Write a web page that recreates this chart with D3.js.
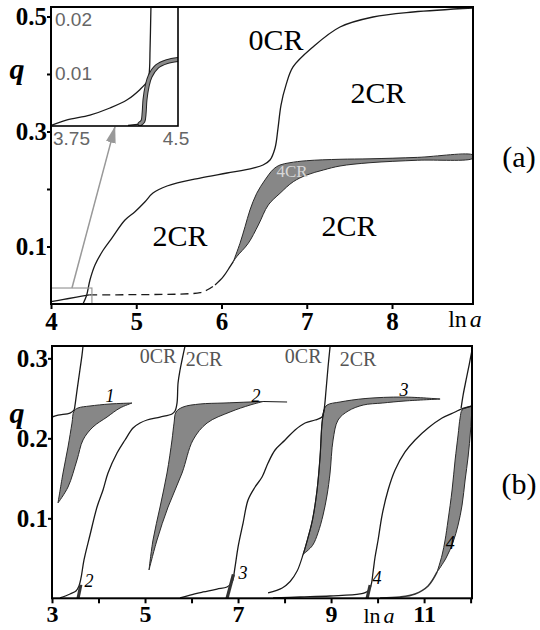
<!DOCTYPE html>
<html><head><meta charset="utf-8">
<script src="https://cdn.jsdelivr.net/npm/d3@7"></script>
<style>body{margin:0;background:#fff}svg{display:block}</style>
</head><body>
<svg id="c" width="540" height="630"></svg>
<script>
// ---------- tick values ----------
const aXTicks=[4,5,6,7,8];
const aYTicks=[0.1,0.2,0.3,0.4,0.5];
const aYLabeled=[0.1,0.3,0.5];
const bXTicks=[3,4,5,6,7,8,9,10,11,12];
const bXLabeled=[3,5,7,9,11];
const bYTicks=[0.1,0.2,0.3];
const insetXTicks=[3.75,4.5];
const insetYTicks=[0.01,0.02];

// ---------- panel (a) data  [ln a, q] ----------
const a0CR=[[4.379,0.0012],[4.419,0.0157],[4.457,0.0417],[4.516,0.0678],[4.613,0.0939],[4.712,0.1143],[4.868,0.1461],[4.985,0.1605],[5.103,0.1779],[5.196,0.193],[5.361,0.2052],[5.748,0.2191],[6.065,0.2278],[6.37,0.2365],[6.487,0.2417],[6.569,0.2504],[6.628,0.2713],[6.663,0.306],[6.698,0.346],[6.757,0.381],[6.839,0.4122],[7.073,0.447],[7.39,0.4817],[7.777,0.4991],[8.246,0.5078],[8.95,0.5148]];
const aLowSolid=[[4.0,0.004],[4.15,0.008],[4.3,0.012],[4.45,0.0157]];
const aDashed=[[4.45,0.0157],[5.0,0.0163],[5.5,0.0172],[5.75,0.0198],[5.83,0.0243],[5.924,0.033]];
const aStem=[[5.924,0.033],[6.021,0.0475],[6.1,0.0649],[6.138,0.0736]];
const aBandLeft=[[6.138,0.0736],[6.217,0.1056],[6.276,0.1344],[6.334,0.1635],[6.413,0.1925],[6.51,0.2157],[6.608,0.2343],[6.686,0.2417],[6.803,0.2457],[6.999,0.2492],[7.39,0.2517],[7.742,0.2525],[8.3,0.255],[8.95,0.259]];
const aBandRight=[[6.138,0.0736],[6.178,0.0823],[6.314,0.1056],[6.432,0.1374],[6.549,0.1722],[6.686,0.1925],[6.842,0.2127],[6.999,0.2243],[7.194,0.233],[7.39,0.24],[7.742,0.2457],[8.3,0.25],[8.95,0.2535]];
const aZoomBox=[[4.0,0],[4.48,0.0278]];
const aArrow=[[4.246,0.0278],[4.75,0.308]];
// inset
const inCurve=[[3.75,0.0001],[3.845,0.0011],[3.98,0.002],[4.098,0.0033],[4.2,0.0048],[4.276,0.0067],[4.317,0.0081],[4.329,0.0094],[4.335,0.0141],[4.34,0.0215],[4.341,0.0225]];
const inBase=[[4.205,0.0001],[4.288,0.0004]];
const inBand=[[4.276,0.0004],[4.293,0.0009],[4.3,0.0024],[4.305,0.0048],[4.317,0.0072],[4.335,0.0091],[4.376,0.0109],[4.435,0.0118],[4.5,0.0122]];

// ---------- panel (b) data  [ln a, q] ----------
const b1Curve=[[3.0,0.2266],[3.13,0.229],[3.387,0.2316],[3.473,0.2354],[3.495,0.2416],[3.538,0.26],[3.6,0.2854],[3.645,0.304],[3.667,0.3154]];
const b1Left=[[3.129,0.1192],[3.237,0.1566],[3.344,0.1891],[3.43,0.2191],[3.473,0.2341],[3.559,0.2379],[3.817,0.2404],[4.247,0.2429],[4.72,0.2441]];
const b1Right=[[3.129,0.1192],[3.344,0.1391],[3.538,0.173],[3.667,0.198],[3.88,0.2141],[4.183,0.2266],[4.462,0.2379],[4.72,0.2441]];
const b2Curve=[[3.172,0.0004],[3.387,0.0054],[3.516,0.0091],[3.58,0.0154],[3.624,0.0254],[3.688,0.0479],[3.817,0.0791],[3.968,0.1141],[4.097,0.1354],[4.204,0.1566],[4.398,0.1816],[4.57,0.1979],[4.742,0.2129],[4.892,0.2191],[5.043,0.2229],[5.323,0.2266],[5.58,0.2304],[5.645,0.2341],[5.688,0.2441],[5.71,0.2691],[5.753,0.2854],[5.796,0.2979],[5.86,0.3154]];
const b2Left=[[5.086,0.0354],[5.172,0.0729],[5.323,0.1141],[5.473,0.1566],[5.58,0.1979],[5.624,0.2191],[5.667,0.2329],[5.817,0.2391],[6.183,0.2429],[6.677,0.2441],[7.258,0.2454],[7.538,0.246]];
const b2Right=[[5.086,0.0354],[5.258,0.0729],[5.495,0.1141],[5.796,0.1566],[6.032,0.1979],[6.333,0.2191],[6.828,0.2329],[7.258,0.2416],[7.538,0.246]];
const b2Tail=[[7.538,0.246],[8.054,0.2454]];
const b3Curve=[[5.753,0.0004],[5.968,0.0041],[6.247,0.0079],[6.548,0.0116],[6.763,0.0141],[6.871,0.0204],[6.935,0.0391],[7.0,0.0641],[7.108,0.0941],[7.215,0.1229],[7.366,0.1391],[7.516,0.1516],[7.645,0.1691],[7.796,0.1854],[8.011,0.1979],[8.226,0.2104],[8.441,0.2191],[8.656,0.2229],[8.806,0.2266],[8.849,0.2354],[8.892,0.2604],[8.935,0.2891],[8.978,0.3141]];
const b3Stem=[[7.645,0.0067],[7.95,0.013],[8.12,0.021],[8.27,0.034],[8.4,0.055]];
const b3Left=[[8.4,0.055],[8.5,0.075],[8.6,0.098],[8.699,0.1354],[8.763,0.1766],[8.806,0.2191],[8.849,0.2354],[8.914,0.2416],[9.194,0.2454],[9.731,0.2497],[10.548,0.2516],[11.344,0.2491]];
const b3Right=[[8.4,0.055],[8.6,0.066],[8.72,0.082],[8.828,0.1041],[8.914,0.1291],[8.978,0.1566],[9.043,0.1979],[9.151,0.2229],[9.366,0.2341],[9.69,0.2416],[10.1,0.2441],[10.59,0.2467],[11.344,0.2491]];
const b4Curve=[[7.753,0.0004],[8.333,0.0016],[8.978,0.0029],[9.624,0.0054],[9.796,0.0091],[9.86,0.0166],[9.903,0.0329],[9.946,0.0516],[10.011,0.0729],[10.097,0.1041],[10.226,0.1354],[10.376,0.1604],[10.591,0.1829],[10.806,0.1979],[11.086,0.2129],[11.387,0.2254],[11.667,0.2329],[11.796,0.2366],[12.03,0.2404]];
const b4Rise=[[11.796,0.2379],[11.839,0.2541],[11.903,0.2729],[11.968,0.2916],[12.03,0.3104]];
const b4Stem=[[10.054,0.0004],[10.484,0.0016],[10.806,0.0054],[11.086,0.0154],[11.28,0.0329]];
const b4Left=[[11.28,0.0329],[11.387,0.0541],[11.452,0.0729],[11.516,0.0979],[11.602,0.1354],[11.667,0.1729],[11.731,0.2041],[11.774,0.2254],[11.817,0.2354],[11.946,0.2391],[12.03,0.2404]];
const b4Right=[[11.28,0.0329],[11.473,0.0504],[11.624,0.0704],[11.731,0.0916],[11.817,0.1166],[11.882,0.1479],[11.946,0.1766],[12.0,0.2104],[12.03,0.2404]];
const bMarks=[[[3.56,0.0],[3.62,0.017]],[[6.763,0.0],[6.9,0.03]],[[9.775,0.0],[9.84,0.0166]]];

// ---------- text annotations ----------
const aRegionLabels=[{t:"0CR",x:6.64,q:0.4417},{t:"2CR",x:7.836,q:0.3496},{t:"2CR",x:5.513,q:0.1009},{t:"2CR",x:7.496,q:0.1183}];
const aBandLabel={t:"4CR",x:6.827,q:0.2209};
const bRegionLabels=[{t:"0CR",x:5.28,q:0.2941},{t:"2CR",x:6.27,q:0.2904},{t:"0CR",x:8.4,q:0.2941},{t:"2CR",x:9.58,q:0.2904}];
const bNumLabels=[{t:"1",x:4.247,q:0.2454},{t:"2",x:7.387,q:0.2454},{t:"3",x:10.57,q:0.2529},{t:"4",x:11.56,q:0.0616},{t:"4",x:9.99,q:0.0179},{t:"2",x:3.796,q:0.0141},{t:"3",x:7.108,q:0.0241}];

// ---------- drawing ----------
const SERIF='Liberation Serif, DejaVu Serif, serif';
const svg=d3.select("#c");
const xA=d3.scaleLinear().domain([4,8.95]).range([51,473]);
const yA=d3.scaleLinear().domain([0,0.5165]).range([304,7]);
const xI=d3.scaleLinear().domain([3.75,4.5]).range([51,178]);
const yI=d3.scaleLinear().domain([0,0.0218]).range([126,7]);
const xB=d3.scaleLinear().domain([3,12.03]).range([52,472]);
const yB=d3.scaleLinear().domain([0,0.3154]).range([598.3,346]);

const defs=svg.append("defs");
function clip(id,x,y,w,h){defs.append("clipPath").attr("id",id).append("rect").attr("x",x).attr("y",y).attr("width",w).attr("height",h);}
clip("ca",xA.range()[0],yA.range()[1],xA.range()[1]-xA.range()[0],yA.range()[0]-yA.range()[1]);
clip("ci",xI.range()[0],yI.range()[1],xI.range()[1]-xI.range()[0],yI.range()[0]-yI.range()[1]);
clip("cb",xB.range()[0],yB.range()[1],xB.range()[1]-xB.range()[0],yB.range()[0]-yB.range()[1]);
defs.append("marker").attr("id","arr").attr("markerUnits","userSpaceOnUse")
  .attr("markerWidth",17).attr("markerHeight",10).attr("refX",16).attr("refY",5).attr("orient","auto")
  .append("path").attr("d","M0,0L17,5L0,10Z").attr("fill","#999");

function mk(xs,ys){return d3.line().x(d=>xs(d[0])).y(d=>ys(d[1])).curve(d3.curveCatmullRom.alpha(0.5));}
function curve(g,data,xs,ys,o={}){
  return g.append("path").attr("d",mk(xs,ys)(data)).attr("fill","none")
   .attr("stroke",o.c||"#1a1a1a").attr("stroke-width",o.w||1.3).attr("stroke-dasharray",o.dash||null)
   .attr("stroke-linecap",o.cap||"butt");
}
function band(g,left,right,xs,ys){
  g.append("path").attr("d",mk(xs,ys)(left.concat(right.slice().reverse()))+"Z")
   .attr("fill","#878787").attr("stroke","#2a2a2a").attr("stroke-width",1);
}
function txt(x,y,s,o={}){
  const t=svg.append("text").attr("x",x).attr("y",y).attr("text-anchor",o.anchor||"middle")
    .style("font-family",o.family||SERIF).style("font-size",(o.size||20)+"px")
    .style("font-style",o.italic?"italic":"normal").style("font-weight",o.bold?"bold":"normal")
    .attr("fill",o.fill||"#000").text(s);
  return t;
}

// ===== panel (a) =====
const gA=svg.append("g").attr("clip-path","url(#ca)");
band(gA,aBandLeft,aBandRight,xA,yA);
curve(gA,a0CR,xA,yA);
curve(gA,aLowSolid,xA,yA);
curve(gA,aDashed,xA,yA,{dash:"8,5"});
curve(gA,aStem,xA,yA);
gA.append("rect").attr("x",xA(aZoomBox[0][0])).attr("y",yA(aZoomBox[1][1]))
  .attr("width",xA(aZoomBox[1][0])-xA(aZoomBox[0][0])).attr("height",yA(aZoomBox[0][1])-yA(aZoomBox[1][1]))
  .attr("fill","none").attr("stroke","#999").attr("stroke-width",1.2);
svg.append("line").attr("x1",xA(aArrow[0][0])).attr("y1",yA(aArrow[0][1]))
  .attr("x2",xA(aArrow[1][0])).attr("y2",yA(aArrow[1][1]))
  .attr("stroke","#999").attr("stroke-width",1.5).attr("marker-end","url(#arr)");

// inset
const gI=svg.append("g").attr("clip-path","url(#ci)");
curve(gI,inCurve,xI,yI,{w:1.3});
curve(gI,inBase,xI,yI,{w:1.3});
curve(gI,inBand,xI,yI,{w:5,c:"#222",cap:"round"});
curve(gI,inBand,xI,yI,{w:3,c:"#8a8a8a",cap:"round"});
svg.append("rect").attr("x",xI.range()[0]).attr("y",yI.range()[1])
  .attr("width",xI.range()[1]-xI.range()[0]).attr("height",yI.range()[0]-yI.range()[1])
  .attr("fill","none").attr("stroke","#000").attr("stroke-width",1.6);
const insetFont='Liberation Sans, Arial, sans-serif';
insetYTicks.forEach(v=>txt(xI(3.75)+4,yI(v)+9,d3.format(".2f")(v),{anchor:"start",family:insetFont,size:19,fill:"#666"}));
insetXTicks.forEach((v,i)=>txt(i===0?xI(v)+2:xI(v)-2,145,String(v),{anchor:i===0?"start":"middle",family:insetFont,size:19,fill:"#666"}));

// frame & axes (a)
svg.append("rect").attr("x",51).attr("y",7).attr("width",422).attr("height",297)
  .attr("fill","none").attr("stroke","#000").attr("stroke-width",2);
function styleAxis(g,size){
  g.select(".domain").remove();
  g.selectAll(".tick line").attr("stroke","#000").attr("stroke-width",2);
  g.attr("font-family",null).attr("font-size",null);
  g.selectAll(".tick text").style("font-family",SERIF).style("font-weight","bold").style("font-size",size+"px").attr("fill","#000");
}
svg.append("g").attr("transform","translate(0,304)")
  .call(d3.axisBottom(xA).tickValues(aXTicks).tickSize(5).tickPadding(3).tickFormat(d3.format("d")))
  .call(g=>styleAxis(g,25));
svg.append("g").attr("transform","translate(51,0)")
  .call(d3.axisLeft(yA).tickValues(aYTicks).tickSize(4).tickPadding(0)
    .tickFormat(d=>aYLabeled.some(v=>Math.abs(v-d)<1e-9)?d3.format(".1f")(d):""))
  .call(g=>styleAxis(g,25));

aRegionLabels.forEach(l=>txt(xA(l.x),yA(l.q),l.t,{size:30}));
txt(xA(aBandLabel.x),yA(aBandLabel.q),aBandLabel.t,{size:17,fill:"#d8d8d8"});

// ===== panel (b) =====
const gB=svg.append("g").attr("clip-path","url(#cb)");
band(gB,b1Left,b1Right,xB,yB);
band(gB,b2Left,b2Right,xB,yB);
band(gB,b3Left,b3Right,xB,yB);
band(gB,b4Left,b4Right,xB,yB);
curve(gB,b1Curve,xB,yB);
curve(gB,b2Curve,xB,yB);
curve(gB,b2Tail,xB,yB,{w:1.2});
curve(gB,b3Curve,xB,yB);
curve(gB,b3Stem.concat(b3Left.slice(1,7)),xB,yB,{w:1.2});
curve(gB,b4Curve,xB,yB);
curve(gB,b4Rise,xB,yB);
curve(gB,b4Stem,xB,yB,{w:1.6,c:"#333"});
bMarks.forEach(m=>curve(gB,m,xB,yB,{w:3.2,c:"#333"}));

svg.append("rect").attr("x",52).attr("y",346).attr("width",420).attr("height",252.3)
  .attr("fill","none").attr("stroke","#000").attr("stroke-width",2);
svg.append("g").attr("transform","translate(0,598.3)")
  .call(d3.axisBottom(xB).tickValues(bXTicks).tickSize(5).tickPadding(2)
    .tickFormat(d=>bXLabeled.includes(d)?d3.format("d")(d):""))
  .call(g=>styleAxis(g,24));
svg.append("g").attr("transform","translate(52,0)")
  .call(d3.axisLeft(yB).tickValues(bYTicks).tickSize(4).tickPadding(0).tickFormat(d3.format(".1f")))
  .call(g=>styleAxis(g,25));

bRegionLabels.forEach(l=>txt(xB(l.x),yB(l.q),l.t,{size:20,fill:"#555"}));
bNumLabels.forEach(l=>txt(xB(l.x),yB(l.q),l.t,{size:18,italic:true}));

// axis titles & panel tags
txt(17,79,"q",{size:30,italic:true,bold:true});
txt(17,423,"q",{size:30,italic:true,bold:true});
function lnA(x,y,size){const t=txt(x,y,"ln",{size:size});
  t.append("tspan").attr("dx",3).style("font-style","italic").text("a");}
lnA(465,327,24); lnA(379,623,22);
txt(519,167,"(a)",{size:30});
txt(519,494,"(b)",{size:30});
</script>
</body></html>
